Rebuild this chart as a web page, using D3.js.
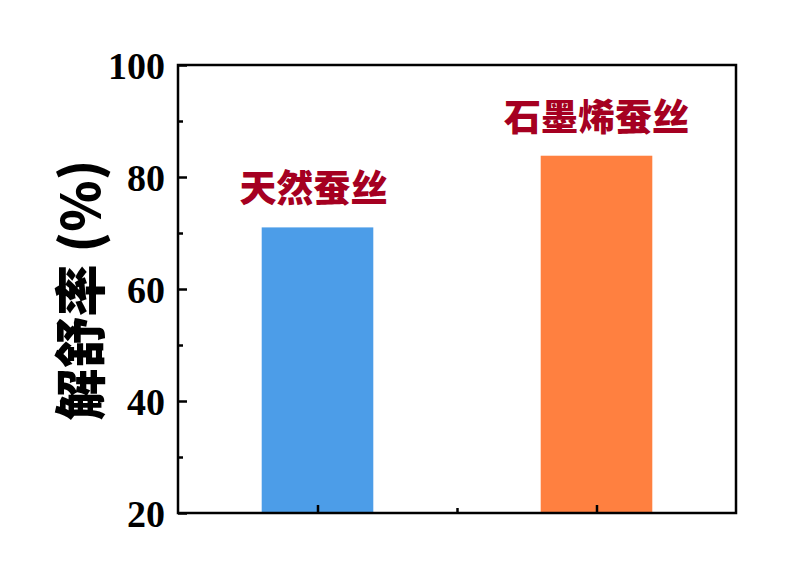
<!DOCTYPE html>
<html><head><meta charset="utf-8">
<script src="https://cdn.jsdelivr.net/npm/d3@7"></script>
<style>body{margin:0;background:#fff}</style>
</head><body>
<script>
const categories = ["天然蚕丝", "石墨烯蚕丝"];
const values = [71.0, 83.8];
const barColors = ["#4C9DE8", "#FF8040"];
const yTicks = [20, 40, 60, 80, 100];
const yMinor = [30, 50, 70, 90];
const yTitle = "解舒率 (%)";

const W = 792, H = 574;
const m = {l:178, r:736, t:65, b:513};
const svg = d3.select("body").append("svg").attr("width", W).attr("height", H);

const x = d3.scaleLinear().domain([0.5, categories.length + 0.5]).range([m.l, m.r]);
const y = d3.scaleLinear().domain([20, 100]).range([m.b, m.t]);
const bw = x(1.4) - x(1);

svg.selectAll("rect.bar").data(values).enter().append("rect")
  .attr("x", (d,i) => x(i+1) - bw/2)
  .attr("width", bw)
  .attr("y", d => y(d))
  .attr("height", d => y(20) - y(d))
  .attr("fill", (d,i) => barColors[i]);

svg.selectAll("text.lab").data(values).enter().append("text")
  .attr("x", (d,i) => x(i+1) - (i===0 ? 4 : 0))
  .attr("y", d => y(d) - 25)
  .attr("text-anchor", "middle")
  .attr("font-family", "'Noto Sans CJK SC'")
  .attr("font-weight", 900)
  .attr("font-size", 37)
  .attr("fill", "#A50021")
  .text((d,i) => categories[i]);

// y axis (ticks inside)
const yAxis = d3.axisRight(y).tickValues(yTicks).tickSize(9).tickFormat("");
const gy = svg.append("g").attr("transform", `translate(${m.l},0)`).call(yAxis);
const yAxisMinor = d3.axisRight(y).tickValues(yMinor).tickSize(5).tickFormat("");
const gym = svg.append("g").attr("transform", `translate(${m.l},0)`).call(yAxisMinor);
[gy, gym].forEach(g => { g.select(".domain").remove(); g.selectAll("line").attr("stroke","#000").attr("stroke-width",2.5); });

svg.selectAll("text.yt").data(yTicks).enter().append("text")
  .attr("x", m.l - 13)
  .attr("y", d => y(d))
  .attr("dy", "0.36em")
  .attr("text-anchor", "end")
  .attr("font-family", "'Liberation Serif'")
  .attr("font-weight", "bold")
  .attr("font-size", 38)
  .text(d => d);

// x axis ticks inside
const xAxis = d3.axisTop(x).tickValues(d3.range(1, categories.length+1)).tickSize(8).tickFormat("");
const gx = svg.append("g").attr("transform", `translate(0,${m.b})`).call(xAxis);
const xAxisMinor = d3.axisTop(x).tickValues([1.5]).tickSize(5).tickFormat("");
const gxm = svg.append("g").attr("transform", `translate(0,${m.b})`).call(xAxisMinor);
[gx, gxm].forEach(g => { g.select(".domain").remove(); g.selectAll("line").attr("stroke","#000").attr("stroke-width",2.5); });

// frame
svg.append("rect").attr("x", m.l).attr("y", m.t).attr("width", m.r - m.l).attr("height", m.b - m.t)
  .attr("fill", "none").attr("stroke", "#000").attr("stroke-width", 2.5);

svg.append("text")
  .attr("transform", `translate(100,290) rotate(-90)`)
  .attr("text-anchor", "middle")
  .attr("font-family", "'Noto Sans CJK SC'")
  .attr("font-weight", 900)
  .attr("font-size", 52)
  .text(yTitle);
</script>
</body></html>
